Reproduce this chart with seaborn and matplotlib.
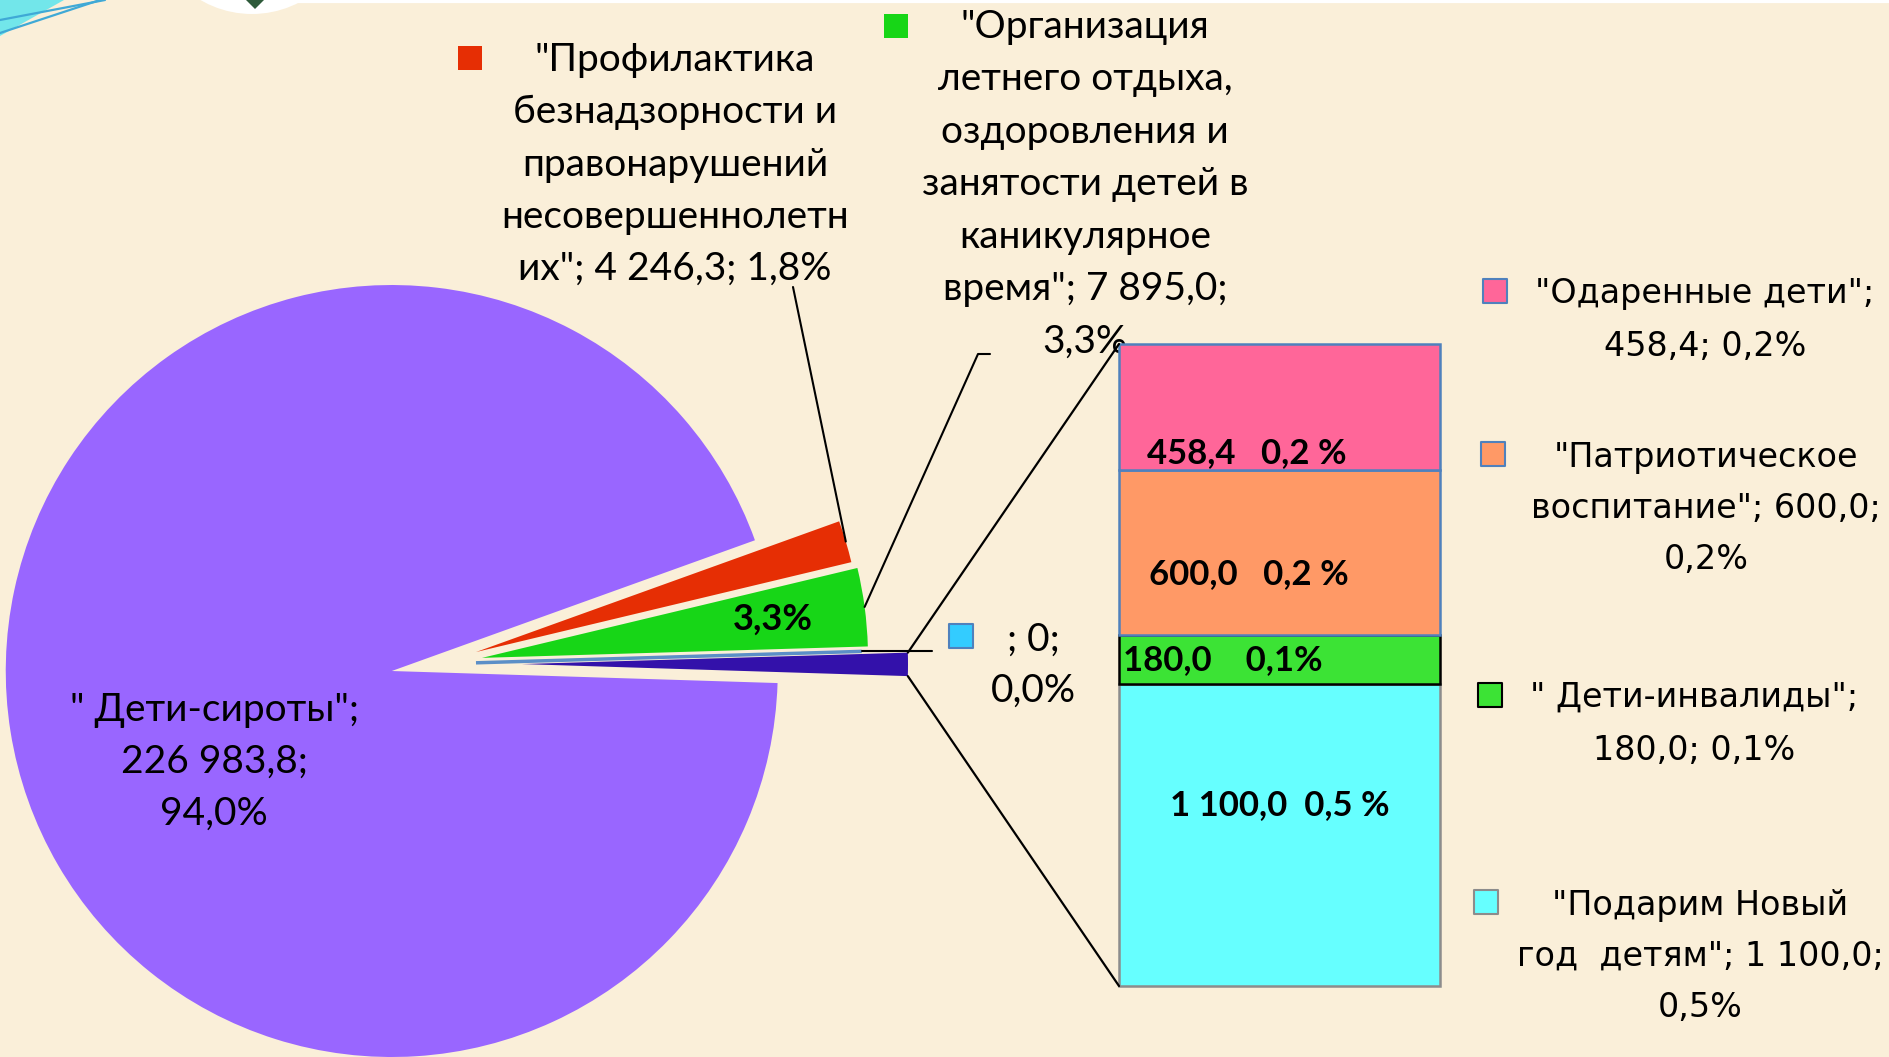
import matplotlib
matplotlib.use("Agg")
import numpy as np
import pandas as pd
import matplotlib.pyplot as plt
import seaborn as sns
from matplotlib.patches import Polygon, Wedge
from matplotlib.patches import ConnectionPatch

# ---------------- data ----------------
pie_names = ['" Дети-сироты"', 'вторичная диаграмма', '(пусто)',
             '"Организация летнего отдыха"', '"Профилактика безнадзорности"']
main_values = [226983.8, 0.0, 7895.0, 4246.3]      # сироты, пусто, лето, профилактика
bar_names = ['"Подарим Новый год  детям"', '" Дети-инвалиды"',
             '"Патриотическое воспитание"', '"Одаренные дети"']
bar_values = [1100.0, 180.0, 600.0, 458.4]
bar_labels = ['1 100,0  0,5 %', '180,0    0,1%', '600,0   0,2 %', '458,4   0,2 %']

pie_colors = ['#9966FF', '#3311AA', '#33CCFF', '#17D617', '#E62E04']
bar_colors = ['#66FFFF', '#3CE335', '#FF9966', '#FF6699']
bar_edges = ['#8C8C8C', '#000000', '#4F81BD', '#4F81BD']

red_lines = ['"Профилактика', 'безнадзорности и', 'правонарушений',
             'несовершеннолетн', 'их"; 4 246,3; 1,8%']
green_lines = ['"Организация', 'летнего отдыха,', 'оздоровления и',
               'занятости детей в', 'каникулярное', 'время"; 7 895,0;', '3,3%']
purple_lines = ['" Дети-сироты";', '226 983,8;', '94,0%']
zero_lines = ['; 0;', '0,0%']
legend_lines = [
    ['"Подарим Новый', 'год  детям"; 1 100,0;', '0,5%'],
    ['" Дети-инвалиды";', '180,0; 0,1%'],
    ['"Патриотическое', 'воспитание"; 600,0;', '0,2%'],
    ['"Одаренные дети";', '458,4; 0,2%'],
]

pie_values = [main_values[0], sum(bar_values), main_values[1], main_values[2], main_values[3]]

# ---------------- style ----------------
sns.set_theme(style="white")
MAIN_FONT = ['Lato', 'Open Sans', 'DejaVu Sans']
WIDE_FONT = ['DejaVu Sans']
plt.rcParams['font.family'] = MAIN_FONT
BG = '#FAEFD9'

W, H = 1890, 1057
fig = plt.figure(figsize=(W / 100, H / 100), dpi=100, facecolor=BG)
ax = fig.add_axes([0, 0, 1, 1])
ax.set_facecolor(BG)


def Y(sy):
    return H - sy


# decorations (top-left swoosh and top ornament)
ax.add_patch(Polygon([(0, Y(0)), (64, Y(0)), (0, Y(36))], closed=True,
                     facecolor='#72E6EA', edgecolor='none', zorder=1))
ax.plot([0, 105], [Y(20), Y(0)], color='#3FA9D6', lw=1.6, zorder=1)
ax.plot([0, 100], [Y(33), Y(0)], color='#3FA9D6', lw=1.6, zorder=1)
ax.add_patch(Wedge((252, Y(-88)), 102, 180, 360, facecolor='white', edgecolor='none', zorder=1))
ax.add_patch(Polygon([(246, Y(0)), (264, Y(0)), (255, Y(9))], closed=True,
                     facecolor='#2E5A3A', edgecolor='none', zorder=1))
ax.plot([293, W], [Y(1), Y(1)], color='white', lw=3, zorder=1)

# ---------------- pie ----------------
R = 386
C = (436, Y(664))
explode = [44.8, 86.0, 40.0, 46.4, 41.7]   # offsets in pixels
green_idx = 3
pct_iter = iter(range(len(pie_values)))


def autopct(p):
    i = next(pct_iter)
    return (f"{p:.1f}%".replace('.', ',')) if i == green_idx else ''


wedges, texts, autotexts = ax.pie(
    pie_values, colors=pie_colors, startangle=19.8, counterclock=True,
    explode=explode, radius=R, center=C, frame=True, autopct=autopct,
    pctdistance=0.76, wedgeprops=dict(linewidth=0),
    textprops=dict(fontsize=26, fontweight='bold', color='black'))
wedges[2].set_edgecolor('#5B8FC7')
wedges[2].set_linewidth(2.5)
for w in wedges:
    w.set_zorder(3)
for t in autotexts:
    t.set_zorder(5)


def outer_point(w, frac=0.5):
    th = np.deg2rad(w.theta1 + frac * (w.theta2 - w.theta1))
    cx, cy = w.center
    return cx + w.r * np.cos(th), cy + w.r * np.sin(th)


# ---------------- bar of pie ----------------
bx0, bx1, by0, by1 = 1119, 1440, 344, 986
bax = fig.add_axes([bx0 / W, (H - by1) / H, (bx1 - bx0) / W, (by1 - by0) / H])
bax.set_facecolor('none')
bottoms = np.concatenate([[0], np.cumsum(bar_values)[:-1]])
total = float(np.sum(bar_values))
bars = bax.bar(0, bar_values, bottom=bottoms, width=1.0, color=bar_colors,
               edgecolor=bar_edges, linewidth=1.8, clip_on=False)
bax.set_xlim(-0.5, 0.5)
bax.set_ylim(0, total)
bax.axis('off')

label_pos = [(0.002, 0.60), (-0.176, 0.49), (-0.095, 0.37), (-0.101, 0.135)]
for v, b, lab, (lx, fy) in zip(bar_values, bottoms, bar_labels, label_pos):
    bax.text(lx, b + fy * v, lab, ha='center', va='center', fontsize=25,
             fontweight='bold', color='black', family=MAIN_FONT)

# connector lines from the "other" wedge to the bar
wo = wedges[1]
top_corner = outer_point(wo, 1.0)
bot_corner = outer_point(wo, 0.0)
for pt, yb in [(top_corner, total), (bot_corner, 0)]:
    con = ConnectionPatch(xyA=pt, coordsA=ax.transData, xyB=(-0.5, yb),
                          coordsB=bax.transData, color='black', lw=1.6, zorder=6)
    fig.add_artist(con)

# ---------------- labels ----------------
def block(x, y0, lines, step, fontsize=28, family=MAIN_FONT, **kw):
    for i, line in enumerate(lines):
        ax.text(x, Y(y0 + i * step), line, ha='center', va='center',
                fontsize=fontsize, family=family, color='black', zorder=7, **kw)


def marker(x, y, face, edge='none', size=300):
    ax.scatter([x], [Y(y)], marker='s', s=size, c=face, edgecolors=edge,
               linewidths=1.5, zorder=7)


# red category label + leader
marker(470, 58, pie_colors[4])
block(675, 60, red_lines, 52.3)
rp = outer_point(wedges[4])
ax.plot([793, rp[0]], [Y(287), rp[1]], color='black', lw=1.5, zorder=6)

# green category label + leader
marker(896, 26, pie_colors[3])
block(1085, 27, green_lines, 52.4)
gp = outer_point(wedges[3])
ax.plot([990, 978, gp[0]], [Y(354), Y(354), gp[1]], color='black', lw=1.5, zorder=6)

# zero category label + leader
marker(961, 636, pie_colors[2], edge='#4F81BD')
block(1033, 640, zero_lines, 51)
zp = outer_point(wedges[2])
ax.plot([zp[0], 932], [zp[1], zp[1]], color='black', lw=1.5, zorder=6)

# main slice label
block(214, 710, purple_lines, 52)

# right legend (stacked bar categories)
leg_markers = [(1486, 902), (1490, 695), (1493, 454), (1495, 291)]
leg_text = [(1700, 905, 51.5), (1694, 697, 53), (1706, 457, 51), (1705, 293, 53)]
for lines, (mx, my), (tx, ty, st), fc, ec in zip(legend_lines, leg_markers, leg_text,
                                                 bar_colors, bar_edges):
    marker(mx, my, fc, edge=ec)
    block(tx, ty, lines, st, fontsize=24, family=WIDE_FONT)

ax.set_xlim(0, W)
ax.set_ylim(0, H)
ax.set_aspect('equal')
ax.axis('off')

fig.savefig('out.png', dpi=100, facecolor=BG)
